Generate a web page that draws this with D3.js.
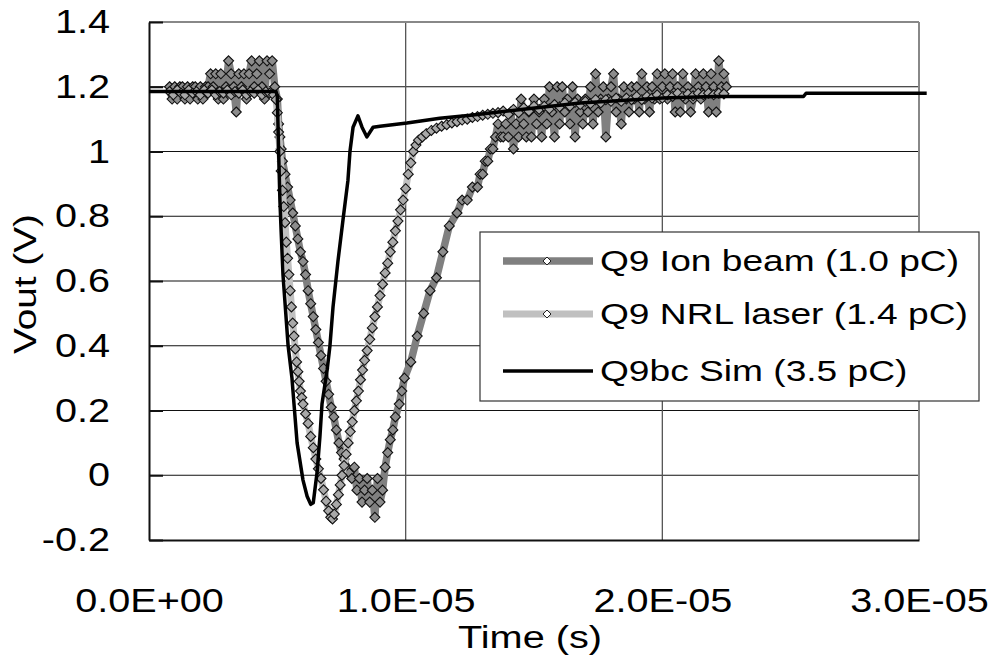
<!DOCTYPE html>
<html>
<head>
<meta charset="utf-8">
<script src="https://cdn.jsdelivr.net/npm/d3@7/dist/d3.min.js"></script>
<style>
  html, body { margin: 0; padding: 0; background: #fff; }
  svg { display: block; }
  text { font-family: "Liberation Sans", Arial, sans-serif; fill: #000; }
</style>
</head>
<body>
<svg id="chart" width="993" height="662"></svg>
<script>
// ---------------- DATA (time in microseconds, Vout in volts) ----------------
const seriesNames = ["Q9 Ion beam (1.0 pC)", "Q9 NRL laser (1.4 pC)", "Q9bc Sim (3.5 pC)"];
const xTicks = [0, 1e-5, 2e-5, 3e-5];
const yTicks = [-0.2, 0, 0.2, 0.4, 0.6, 0.8, 1.0, 1.2, 1.4];
const xTitle = "Time (s)";
const yTitle = "Vout (V)";

const ionT = [0.8,0.9,1.0,1.1,1.2,1.3,1.4,1.5,1.6,1.7,1.8,1.9,2.0,2.1,2.2,2.3,2.4,2.5,2.6,2.7,2.8,2.9,3.0,3.1,3.2,3.3,3.4,3.5,3.6,3.7,3.8,3.9,4.0,4.1,4.2,4.3,4.4,4.5,4.6,4.7,4.8,4.9,
  5.0,5.05,5.1,5.15,5.2,5.3,5.4,5.5,5.6,5.7,5.8,5.9,6.0,6.1,6.2,6.3,6.4,6.5,6.6,6.7,6.8,6.9,7.0,7.1,7.2,7.3,7.4,7.5,7.6,7.7,7.8,7.9,
  8.0,8.1,8.2,8.3,8.4,8.5,8.6,8.7,8.8,8.9,9.0,9.1,9.2,
  9.3,9.4,9.5,9.6,9.75,9.85,9.95,10.2,10.45,10.7,10.95,11.2,11.45,11.7,12.0,12.2,12.4,12.6,12.8,12.9,13.0,13.1,13.2,13.3,13.4,13.5,
  13.6,13.7,13.8,13.9,14.0,14.1,14.2,14.3,14.4,14.5,14.6,14.7,14.8,14.9,15.0,15.1,15.2,15.3,15.4,15.5,15.6,15.7,15.8,15.9,16.0,16.1,16.2,16.3,16.4,16.5,16.6,16.7,16.8,16.9,17.0,17.1,17.2,17.3,17.4,17.5,17.6,17.7,17.8,17.9,18.0,18.1,18.2,18.3,18.4,18.5,18.6,18.7,18.8,18.9,19.0,19.1,19.2,19.3,19.4,19.5,19.6,19.7,19.8,19.9,20.0,20.1,20.2,20.3,20.4,20.5,20.6,20.7,20.8,20.9,21.0,21.1,21.2,21.3,21.4,21.5,21.6,21.7,21.8,21.9,22.0,22.1,22.2,22.3,22.4,22.5];
const ionV = [1.2,1.162,1.2,1.162,1.2,1.2,1.162,1.2,1.162,1.2,1.2,1.162,1.2,1.162,1.2,1.2,1.24,1.2,1.24,1.162,1.24,1.162,1.2,1.28,1.24,1.2,1.122,1.24,1.2,1.24,1.162,1.24,1.28,1.2,1.24,1.28,1.2,1.162,1.28,1.24,1.28,1.2,
  1.162,1.085,1.045,1.008,0.97,0.93,0.89,0.85,0.81,0.77,0.73,0.69,0.66,0.62,0.57,0.53,0.49,0.45,0.41,0.37,0.33,0.29,0.25,0.21,0.18,0.14,0.10,0.07,0.05,0.025,0.007,-0.01,
  0.025,-0.046,-0.01,-0.083,-0.046,-0.01,-0.083,-0.046,-0.13,-0.01,-0.083,-0.046,0.025,
  0.07,0.11,0.14,0.18,0.22,0.26,0.30,0.35,0.43,0.50,0.57,0.61,0.69,0.77,0.81,0.85,0.85,0.89,0.89,0.93,0.93,0.97,0.97,1.008,1.008,1.045,
  1.085,1.045,1.045,1.085,1.045,1.122,1.008,1.085,1.045,1.162,1.085,1.045,1.122,1.045,1.162,1.085,1.122,1.045,1.162,1.085,1.2,1.122,1.045,1.2,1.085,1.2,1.122,1.162,1.085,1.2,1.045,1.162,1.122,1.085,1.162,1.122,1.2,1.085,1.24,1.122,1.162,1.2,1.045,1.162,1.2,1.24,1.122,1.162,1.085,1.2,1.162,1.122,1.2,1.162,1.2,1.122,1.24,1.162,1.2,1.122,1.2,1.162,1.24,1.162,1.2,1.24,1.162,1.2,1.24,1.122,1.2,1.122,1.24,1.162,1.2,1.122,1.162,1.24,1.2,1.162,1.24,1.2,1.122,1.24,1.2,1.122,1.28,1.2,1.24,1.2];

const laserT = [0.8,0.95,1.1,1.25,1.4,1.55,1.7,1.85,2.0,2.15,2.3,2.45,2.6,2.75,2.9,3.05,3.2,3.35,3.5,3.65,3.8,3.95,4.1,4.25,4.4,4.55,4.7,4.85,
  4.95,5.0,5.05,5.1,5.15,5.2,5.25,5.3,5.35,5.4,5.45,5.5,5.55,5.6,5.65,5.7,5.75,5.8,5.85,5.9,5.95,6.0,6.1,6.2,6.3,6.4,6.5,6.6,6.7,6.8,6.9,7.0,7.08,7.15,7.22,7.3,7.38,7.45,7.52,7.6,7.68,7.76,7.84,7.92,8.0,8.08,8.16,8.24,8.32,8.4,8.5,8.6,8.7,8.8,8.9,9.0,9.1,9.2,9.3,9.4,9.5,9.6,9.7,9.8,9.9,10.0,10.1,10.2,10.3,10.4,10.5,10.65,10.8,11.0,11.2,11.4,11.6,11.8,12.0,12.2,12.4,12.6,12.8,13.0,13.2,13.4,13.6,
  13.8,14.0,14.2,14.4,14.6,14.8,15.0,15.2,15.4,15.6,15.8,16.0,16.2,16.4,16.6,16.8,17.0,17.2,17.4,17.6,17.8,18.0,18.2,18.4,18.6,18.8,19.0,19.2,19.4,19.6,19.8,20.0,20.2,20.4,20.6,20.8,21.0,21.2,21.4,21.6,21.8,22.0,22.2,22.4];
const laserV = [1.185,1.175,1.19,1.18,1.175,1.19,1.18,1.185,1.175,1.19,1.18,1.19,1.175,1.185,1.18,1.19,1.175,1.185,1.18,1.19,1.175,1.185,1.18,1.19,1.175,1.185,1.18,1.175,
  1.16,1.12,1.06,1.0,0.94,0.88,0.83,0.78,0.72,0.67,0.62,0.57,0.52,0.47,0.43,0.39,0.35,0.32,0.29,0.26,0.24,0.22,0.19,0.16,0.12,0.085,0.05,0.02,-0.01,-0.045,-0.08,-0.11,-0.13,-0.135,-0.12,-0.09,-0.06,-0.03,0.0,0.03,0.065,0.1,0.135,0.165,0.2,0.23,0.26,0.295,0.325,0.355,0.385,0.42,0.455,0.49,0.52,0.555,0.59,0.625,0.655,0.69,0.72,0.755,0.785,0.82,0.85,0.885,0.93,0.965,1.0,1.02,1.035,1.045,1.055,1.065,1.072,1.078,1.083,1.088,1.092,1.097,1.1,1.105,1.108,1.112,1.115,1.118,1.12,
  1.125,1.115,1.13,1.12,1.135,1.125,1.14,1.13,1.14,1.132,1.145,1.138,1.15,1.14,1.152,1.145,1.155,1.148,1.16,1.15,1.16,1.155,1.165,1.155,1.165,1.16,1.17,1.16,1.17,1.165,1.175,1.165,1.175,1.17,1.18,1.17,1.178,1.172,1.18,1.175,1.18,1.175,1.18,1.178];

const simT = [0,4.95,5.0,5.05,5.1,5.15,5.22,5.42,5.57,5.65,5.77,6.0,6.16,6.3,6.4,6.55,6.66,6.74,6.94,7.05,7.17,7.36,7.56,7.75,7.83,7.95,8.14,8.30,8.49,8.73,9.0,10.05,11.33,12.62,14.5,16.8,20.0,22.0,25.5,25.6,30.3];
const simV = [1.185,1.185,1.17,1.0,0.85,0.75,0.62,0.40,0.30,0.22,0.10,-0.015,-0.065,-0.09,-0.085,0.01,0.12,0.22,0.325,0.40,0.52,0.66,0.79,0.91,1.0,1.075,1.11,1.075,1.045,1.075,1.078,1.088,1.103,1.113,1.13,1.15,1.165,1.17,1.17,1.18,1.18];

// ---------------- CHART ----------------
const svg = d3.select("#chart");
const pLeft = 149, pRight = 919, pTop = 22, pBottom = 540;
const x = d3.scaleLinear().domain([0, 3e-5]).range([pLeft, pRight]);
const y = d3.scaleLinear().domain([-0.2, 1.4]).range([pBottom, pTop]);

function stretch(sel, f) {
  sel.each(function () {
    const w = this.getComputedTextLength();
    this.setAttribute("textLength", w * f);
    this.setAttribute("lengthAdjust", "spacingAndGlyphs");
  });
}

function fmtX(d) {
  const [m, e] = d.toExponential(1).split("e");
  const sign = e[0] === "-" ? "-" : "+";
  const digits = e.replace(/[+-]/, "").padStart(2, "0");
  return m + "E" + sign + digits;
}
function fmtY(d) { return String(+d.toFixed(1)); }

// gridlines
svg.append("g").selectAll("line").data(yTicks.slice(1, -1)).join("line")
  .attr("x1", pLeft).attr("x2", pRight)
  .attr("y1", d => y(d)).attr("y2", d => y(d))
  .attr("stroke", "#111").attr("stroke-width", 1.2);
svg.append("g").selectAll("line").data(xTicks.slice(1, -1)).join("line")
  .attr("x1", d => x(d)).attr("x2", d => x(d))
  .attr("y1", pTop).attr("y2", pBottom)
  .attr("stroke", "#555").attr("stroke-width", 1.3);

// frame: top/right gray
svg.append("line").attr("x1", pLeft).attr("x2", pRight).attr("y1", pTop).attr("y2", pTop)
  .attr("stroke", "#888").attr("stroke-width", 2);
svg.append("line").attr("x1", pRight).attr("x2", pRight).attr("y1", pTop).attr("y2", pBottom)
  .attr("stroke", "#888").attr("stroke-width", 2);

// axes
const tickFont = "Liberation Sans, Arial, sans-serif";
const yAxis = svg.append("g").attr("transform", `translate(${pLeft},0)`)
  .call(d3.axisLeft(y).tickValues(yTicks).tickFormat(fmtY).tickSizeInner(-14).tickSizeOuter(0).tickPadding(39));
yAxis.select(".domain").attr("stroke", "#111").attr("stroke-width", 2);
yAxis.selectAll(".tick line").attr("stroke", "#111").attr("stroke-width", 2);
yAxis.selectAll("text").attr("font-size", 33).attr("font-family", tickFont).attr("fill", "#000");
stretch(yAxis.selectAll("text"), 1.2);

const xAxis = svg.append("g").attr("transform", `translate(0,${pBottom})`)
  .call(d3.axisBottom(x).tickValues(xTicks).tickFormat(fmtX).tickSize(0).tickPadding(49));
xAxis.select(".domain").attr("stroke", "#111").attr("stroke-width", 2);
xAxis.selectAll("text").attr("font-size", 33).attr("font-family", tickFont).attr("fill", "#000");
stretch(xAxis.selectAll("text"), 1.2);

// axis titles
const xt = svg.append("text").attr("x", 530).attr("y", 648).attr("text-anchor", "middle")
  .attr("font-size", 31).text(xTitle);
stretch(xt, 1.28);
const yt = svg.append("text").attr("transform", "translate(36,284) rotate(-90)")
  .attr("text-anchor", "middle").attr("font-size", 31).text(yTitle);
stretch(yt, 1.25);

// series
const diamond = "M0,-5L5,0L0,5L-5,0Z";
function zipData(T, V) {
  return T.map((t, i) => ({ t: t * 1e-6, v: V[i] })).filter(d => d.v !== undefined);
}
const line = d3.line().x(d => x(d.t)).y(d => y(d.v));

const series = [
  { name: seriesNames[0], data: zipData(ionT, ionV), color: "#808080", width: 7.5, marker: true, fill: "#8c8c8c" },
  { name: seriesNames[1], data: zipData(laserT, laserV), color: "#c0c0c0", width: 7, marker: true, fill: "#a8a8a8" },
  { name: seriesNames[2], data: zipData(simT, simV), color: "#000", width: 3.5, marker: false }
];

series.forEach(s => {
  const g = svg.append("g");
  g.append("path").datum(s.data).attr("d", line)
    .attr("fill", "none").attr("stroke", s.color).attr("stroke-width", s.width)
    .attr("stroke-linejoin", "round");
  if (s.marker) {
    g.selectAll("path.m").data(s.data).join("path").attr("class", "m")
      .attr("d", diamond)
      .attr("transform", d => `translate(${x(d.t)},${y(d.v)})`)
      .attr("fill", s.fill).attr("stroke", "#111").attr("stroke-width", 1.1);
  }
});

// legend
const lg = svg.append("g");
lg.append("rect").attr("x", 480).attr("y", 232).attr("width", 499).attr("height", 169)
  .attr("fill", "#fff").attr("stroke", "#333").attr("stroke-width", 1.2);
const rowsY = [261, 314, 371];
series.forEach((s, i) => {
  lg.append("line").attr("x1", 503).attr("x2", 593).attr("y1", rowsY[i]).attr("y2", rowsY[i])
    .attr("stroke", s.color).attr("stroke-width", s.width);
  if (s.marker) {
    lg.append("path").attr("d", "M0,-4L4,0L0,4L-4,0Z")
      .attr("transform", `translate(547,${rowsY[i]})`)
      .attr("fill", "#fff").attr("stroke", "#222").attr("stroke-width", 1);
  }
  const t = lg.append("text").attr("x", 600).attr("y", rowsY[i] + 10)
    .attr("font-size", 29).text(s.name);
  stretch(t, 1.28);
});
</script>
</body>
</html>
